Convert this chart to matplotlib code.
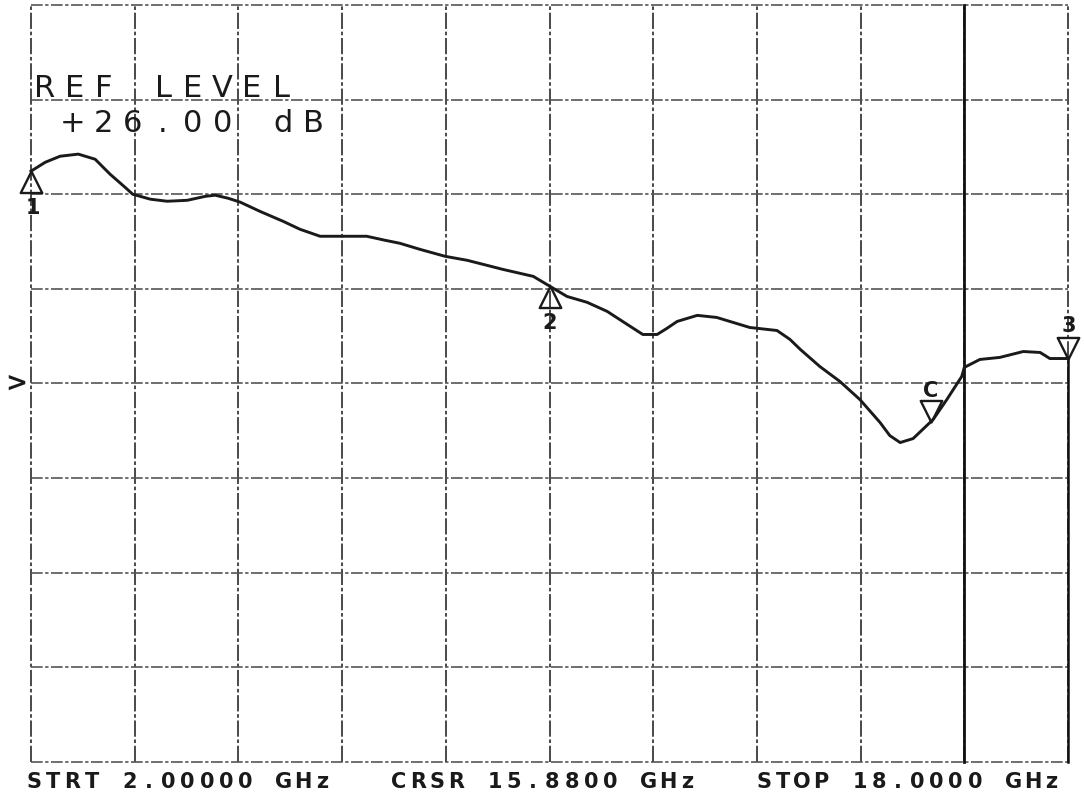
import numpy as np
import matplotlib
matplotlib.use("Agg")
import matplotlib.pyplot as plt
from matplotlib.path import Path

# ---- trace (GHz, dB) ----
freq_ghz = [2.00, 2.22, 2.45, 2.73, 2.99, 3.22, 3.45, 3.57, 3.84, 4.10,
            4.41, 4.69, 4.84, 5.04, 5.23, 5.53, 5.89, 6.15, 6.46, 6.88,
            7.18, 7.46, 7.69, 8.00, 8.39, 8.73, 9.28, 9.75, 10.01, 10.27,
            10.58, 10.89, 11.20, 11.44, 11.66, 11.81, 11.97, 12.28, 12.58, 13.09,
            13.51, 13.71, 13.87, 14.17, 14.48, 14.79, 15.10, 15.25, 15.41, 15.61,
            15.92, 16.13, 16.36, 16.40, 16.64, 16.95, 17.31, 17.57, 17.72, 18.00]
gain_db = [17.22, 17.69, 18.01, 18.12, 17.85, 17.06, 16.37, 16.00, 15.74, 15.63,
           15.68, 15.89, 15.95, 15.79, 15.58, 15.10, 14.57, 14.15, 13.78, 13.78,
           13.78, 13.57, 13.41, 13.09, 12.72, 12.51, 12.03, 11.66, 11.13, 10.60,
           10.29, 9.81, 9.12, 8.59, 8.59, 8.91, 9.28, 9.60, 9.49, 8.96,
           8.80, 8.33, 7.80, 6.90, 6.11, 5.15, 3.94, 3.25, 2.88, 3.09,
           4.10, 5.15, 6.37, 6.85, 7.27, 7.38, 7.69, 7.64, 7.32, 7.32]

# markers: (label, frequency GHz, points up?)
marker_labels = ["1", "2", "C", "3"]
marker_freqs = [2.0, 10.0, 15.88, 18.0]
marker_up = [True, True, False, False]

start_ghz, stop_ghz = 2.0, 18.0
ref_level_db = 26.0
db_per_div = 5.0
n_xdiv, n_ydiv = 10, 8

footer = "STRT 2.00000 GHz   CRSR 15.8800 GHz   STOP 18.0000 GHz"
ref_line1 = "REF LEVEL"
ref_line2 = "+26.00 dB"

W, H = 1084, 795
fig = plt.figure(figsize=(W / 100, H / 100), dpi=100, facecolor="white")
ax = fig.add_axes([31 / W, 1 - 762 / H, 1037 / W, 757 / H])
ax.set_facecolor("white")
bottom_db = ref_level_db - n_ydiv * db_per_div
ax.set_xlim(start_ghz, stop_ghz)
ax.set_ylim(bottom_db, ref_level_db)
ax.set_xticks([])
ax.set_yticks([])
for sp in ax.spines.values():
    sp.set_visible(False)

# plotter grid (pen-drawn dashed lines)
xg = np.linspace(start_ghz, stop_ghz, n_xdiv + 1)
yg = np.linspace(bottom_db, ref_level_db, n_ydiv + 1)
for x in xg:
    ax.axvline(x, color="#3a3a3a", lw=1.3, ls=(0, (9, 1.5, 2, 1.5)), clip_on=False, zorder=1)
for y in yg:
    ax.axhline(y, color="#555555", lw=1.2, ls=(0, (7, 1.5, 2, 1.5)), clip_on=False, zorder=1)
# solid pen stroke at the 9th division and down the right edge
ax.axvline(xg[9], color="#111111", lw=2.0, clip_on=False, zorder=2)
ax.plot([stop_ghz, stop_ghz], [bottom_db, gain_db[-1]], color="#111111", lw=1.8,
        clip_on=False, zorder=2)

# trace
ax.plot(freq_ghz, gain_db, color="#1a1a1a", lw=2.1, solid_joinstyle="round", zorder=3,
        clip_on=False)

# marker triangles with the apex sitting on the trace
up_tri = Path([(0, 0), (-1, -2), (1, -2), (0, 0)],
              [Path.MOVETO, Path.LINETO, Path.LINETO, Path.CLOSEPOLY])
down_tri = Path([(0, 0), (-1, 2), (1, 2), (0, 0)],
                [Path.MOVETO, Path.LINETO, Path.LINETO, Path.CLOSEPOLY])
label_offsets = {"1": (2, -43), "2": (0, -43), "C": (0, 25), "3": (1, 27)}
for lab, f, up in zip(marker_labels, marker_freqs, marker_up):
    yv = np.interp(f, freq_ghz, gain_db)
    ax.plot([f], [yv], marker=up_tri if up else down_tri, ms=31, mfc="none",
            mec="#1a1a1a", mew=1.7, clip_on=False, zorder=4)
    ax.annotate(lab, (f, yv), xytext=label_offsets[lab], textcoords="offset pixels",
                ha="center", va="baseline", fontsize=15, family="DejaVu Sans",
                fontweight="bold", color="#1a1a1a", annotation_clip=False)

# reference position indicator on the left margin
ax.annotate(">", (start_ghz, ref_level_db - 4 * db_per_div), xytext=(-15, 0),
            textcoords="offset pixels", ha="center", va="center", fontsize=19,
            fontweight="bold", color="#1a1a1a", annotation_clip=False)


def plotter_text(s, x0, y_base, pitch, size, weight="normal"):
    # the plotter writes characters on a fixed pitch
    for i, ch in enumerate(s):
        if ch == " ":
            continue
        fig.text((x0 + i * pitch) / W, 1 - y_base / H, ch, ha="center", va="baseline",
                 fontsize=size, family="DejaVu Sans", fontweight=weight, color="#1a1a1a")


plotter_text(ref_line1, 45, 97, 29.5, 22)
plotter_text(ref_line2, 73, 132, 30.0, 22)
plotter_text(footer, 34, 788, 19.2, 15, weight="bold")

fig.savefig("out.png", dpi=100, facecolor="white")
